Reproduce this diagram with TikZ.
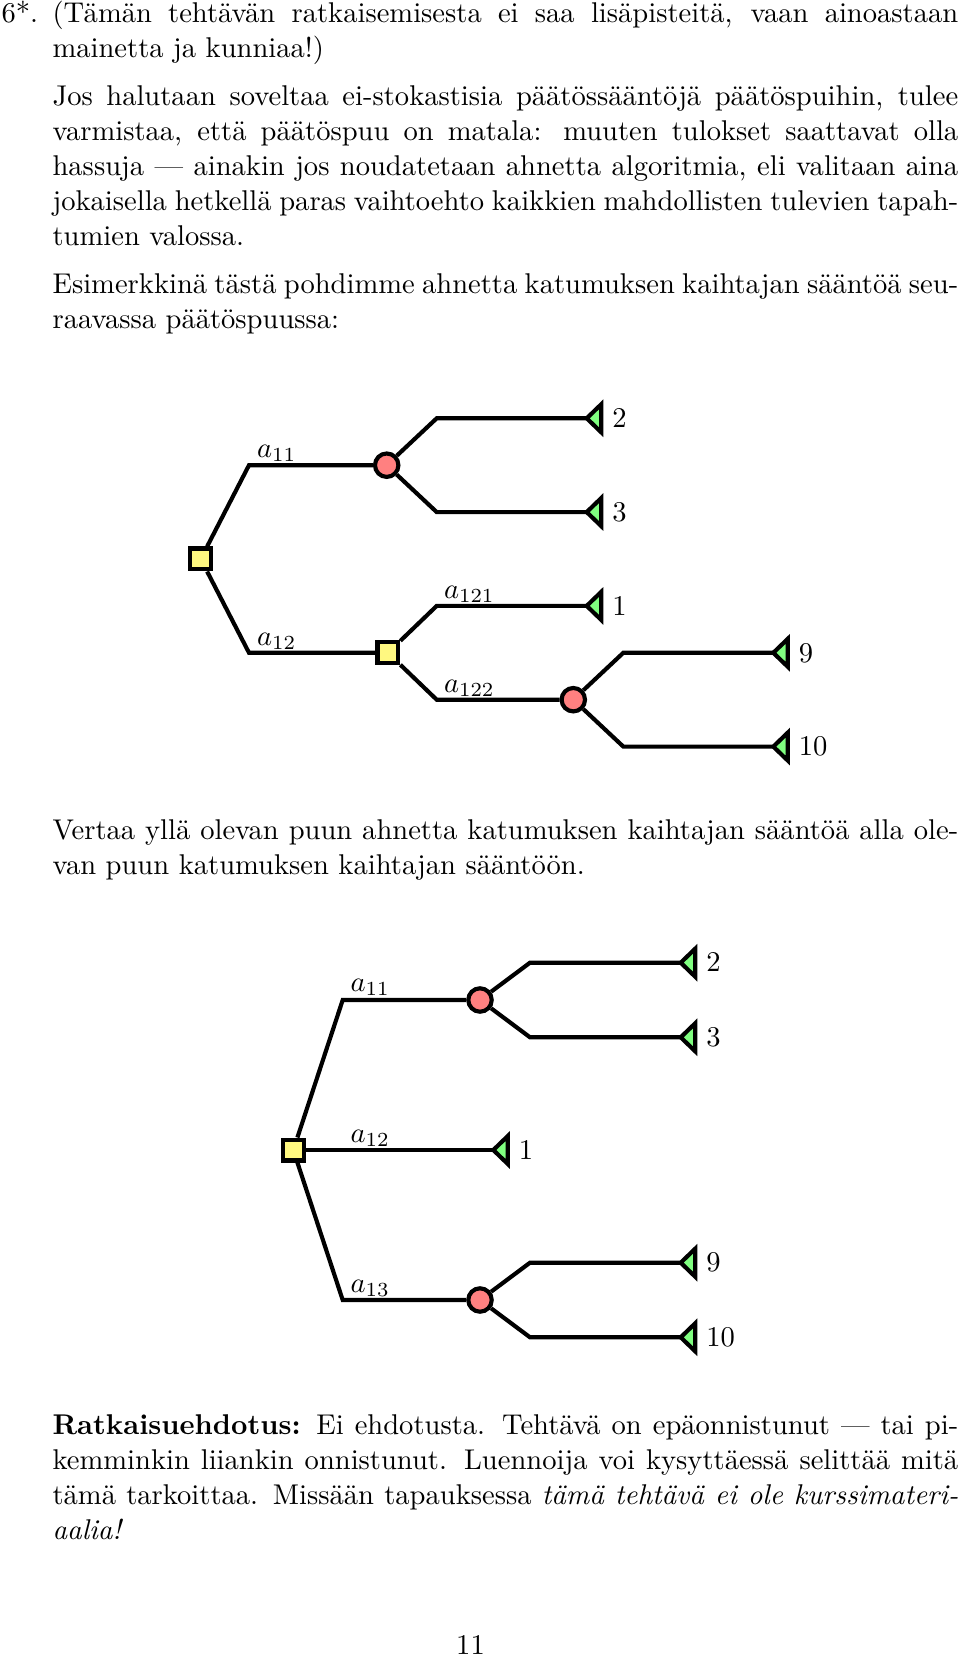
\documentclass[tikz,border=0pt]{standalone}
\begin{document}
\begin{tikzpicture}[x=0.35pt,y=-0.35pt,
  treeline/.style={draw=black,line width=1.45pt},
  decision/.style={rectangle,draw=black,line width=1.45pt,fill=yellow!50,minimum size=7.3pt,inner sep=0pt},
  chance/.style={circle,draw=black,line width=1.45pt,fill=red!50,minimum size=8.2pt,inner sep=0pt},
  leaftri/.style={draw=black,line width=1.45pt,fill=green!50},
  val/.style={anchor=west,inner sep=0pt,font=\fontsize{10}{12}\selectfont},
  lab/.style={anchor=base west,inner sep=0pt,font=\fontsize{10}{12}\selectfont},
  para/.style={anchor=base west,inner sep=0pt,text width=317pt,align=justify,font=\fontsize{10}{12.25}\selectfont},
  plain/.style={anchor=base west,inner sep=0pt,font=\fontsize{10}{12.25}\selectfont}]
\useasboundingbox (0,0) rectangle (960,1656);

% ---------- text ----------
\node[plain] (num) at (1,23) {6*.};
\node[para] (p1) at (52,23) {(Tämän tehtävän ratkaisemisesta ei saa lisäpisteitä, vaan ainoastaan\linebreak mainetta ja kunniaa!)};
\node[para] (p2) at (52,106) {Jos halutaan soveltaa ei-stokastisia päätössääntöjä päätöspuihin, tulee\linebreak varmistaa, että päätöspuu on matala: muuten tulokset saattavat olla\linebreak hassuja \textemdash{} ainakin jos noudatetaan ahnetta algoritmia, eli valitaan aina\linebreak jokaisella hetkellä paras vaihtoehto kaikkien mahdollisten tulevien tapah-\linebreak tumien valossa.};
\node[para] (p3) at (52,294) {Esimerkkinä tästä pohdimme ahnetta katumuksen kaihtajan sääntöä seu-\linebreak raavassa päätöspuussa:};
\node[para] (p4) at (52,839) {Vertaa yllä olevan puun ahnetta katumuksen kaihtajan sääntöä alla ole-\linebreak van puun katumuksen kaihtajan sääntöön.};
\node[para] (p5) at (52,1434) {\textbf{Ratkaisuehdotus:} Ei ehdotusta. Tehtävä on epäonnistunut \textemdash{} tai pi-\linebreak kemminkin liiankin onnistunut. Luennoija voi kysyttäessä selittää mitä\linebreak tämä tarkoittaa. Missään tapauksessa \emph{tämä tehtävä ei ole kurssimateri-\linebreak aalia!}};
\node[anchor=base,inner sep=0pt,font=\fontsize{10}{12}\selectfont] (pg) at (470.5,1654) {11};

% ---------- tree 1 ----------
\node[decision] (A) at (200.7,559.0) {};
\coordinate (A1) at (249,465.2);
\node[chance] (B) at (386.7,465.2) {};
\coordinate (B1) at (436.7,418.3); \coordinate (L1) at (586.7,418.3);
\coordinate (B2) at (436.7,512.1); \coordinate (L2) at (586.7,512.1);
\coordinate (A2) at (249,652.8);
\node[decision] (C) at (387.9,652.8) {};
\coordinate (C1) at (436.7,605.9); \coordinate (L3) at (586.7,605.9);
\coordinate (C2) at (436.7,699.7);
\node[chance] (D) at (573.3,699.7) {};
\coordinate (D1) at (623.3,652.8); \coordinate (L4) at (773.3,652.8);
\coordinate (D2) at (623.3,746.6); \coordinate (L5) at (773.3,746.6);

\draw[treeline] (A) -- (A1) -- (B);
\draw[treeline] (B) -- (B1) -- (L1);
\draw[treeline] (B) -- (B2) -- (L2);
\draw[treeline] (A) -- (A2) -- (C);
\draw[treeline] (C) -- (C1) -- (L3);
\draw[treeline] (C) -- (C2) -- (D);
\draw[treeline] (D) -- (D1) -- (L4);
\draw[treeline] (D) -- (D2) -- (L5);

\foreach \t in {L1,L2,L3,L4,L5}
  \draw[leaftri] (\t) -- ++(14.5,-14) -- ++(0,28) -- cycle;

\node[lab] (tA1) at (256.5,457.7) {$a_{11}$};
\node[lab] (tA2) at (256.5,645.3) {$a_{12}$};
\node[lab] (tC1) at (443.5,598.4) {$a_{121}$};
\node[lab] (tC2) at (443.5,692.2) {$a_{122}$};
\node[val] (v1) at (611.7,418.3) {$2$};
\node[val] (v2) at (611.7,512.1) {$3$};
\node[val] (v3) at (611.7,605.9) {$1$};
\node[val] (v4) at (798.3,652.8) {$9$};
\node[val] (v5) at (798.3,746.6) {$10$};

% ---------- tree 2 ----------
\node[decision] (E) at (293.3,1150) {};
\coordinate (E1) at (342.7,1000);
\node[chance] (F) at (480,1000) {};
\coordinate (F1) at (530,962.7); \coordinate (L6) at (680.7,962.7);
\coordinate (F2) at (530,1037.3); \coordinate (L7) at (680.7,1037.3);
\coordinate (L8) at (493.3,1150);
\coordinate (E3) at (342.7,1300);
\node[chance] (G) at (480,1300) {};
\coordinate (G1) at (530,1262.7); \coordinate (L9) at (680.7,1262.7);
\coordinate (G2) at (530,1337.3); \coordinate (L10) at (680.7,1337.3);

\draw[treeline] (E) -- (E1) -- (F);
\draw[treeline] (F) -- (F1) -- (L6);
\draw[treeline] (F) -- (F2) -- (L7);
\draw[treeline] (E) -- (L8);
\draw[treeline] (E) -- (E3) -- (G);
\draw[treeline] (G) -- (G1) -- (L9);
\draw[treeline] (G) -- (G2) -- (L10);

\foreach \t in {L6,L7,L8,L9,L10}
  \draw[leaftri] (\t) -- ++(14.5,-14) -- ++(0,28) -- cycle;

\node[lab] (tE1) at (350,991.7) {$a_{11}$};
\node[lab] (tE2) at (350,1142.7) {$a_{12}$};
\node[lab] (tE3) at (350,1292.7) {$a_{13}$};
\node[val] (v6) at (705.7,962.7) {$2$};
\node[val] (v7) at (705.7,1037.3) {$3$};
\node[val] (v8) at (518.3,1150) {$1$};
\node[val] (v9) at (705.7,1262.7) {$9$};
\node[val] (v10) at (705.7,1337.3) {$10$};
\end{tikzpicture}
\end{document}
